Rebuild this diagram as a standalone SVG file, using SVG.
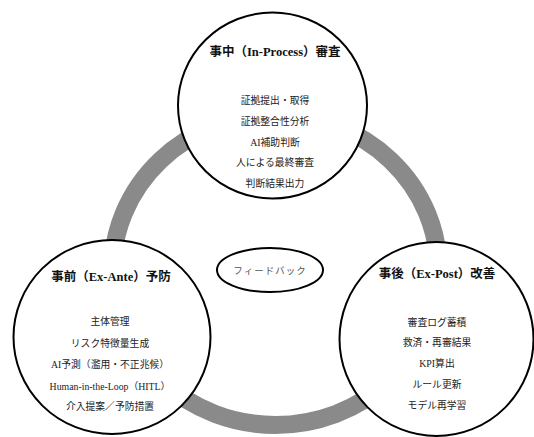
<svg xmlns="http://www.w3.org/2000/svg" width="534" height="437" viewBox="0 0 534 437">
<style>
.node{fill:#fff;stroke:#000;stroke-width:2}
.ring{fill:none;stroke:#8a8a8a;stroke-width:18}
text{font-family:"Liberation Serif","Noto Sans CJK JP",serif;text-anchor:middle;fill:#222}
.title{font-size:12.5px;font-weight:bold;fill:#111}
.item{font-size:9.8px}
.fb{font-size:9.5px;fill:#555;letter-spacing:1px}
</style>
<rect width="534" height="437" fill="#fff"/>
<g id="connectors">
<ellipse class="ring" cx="275.5" cy="270" rx="163" ry="155"/>
</g>
<g id="node-inprocess">
<ellipse class="node" cx="272.5" cy="105.5" rx="94.5" ry="93"/>
<text class="title" x="275" y="56">事中（In-Process）審査</text>
<text class="item" x="275" y="104">証拠提出・取得</text>
<text class="item" x="275" y="124.8">証拠整合性分析</text>
<text class="item" x="275" y="145.6">AI補助判断</text>
<text class="item" x="275" y="166.4">人による最終審査</text>
<text class="item" x="275" y="187.2">判断結果出力</text>
</g>
<g id="node-exante">
<ellipse class="node" cx="112" cy="337" rx="98.5" ry="97"/>
<text class="title" x="111" y="281">事前（Ex-Ante）予防</text>
<text class="item" x="110" y="325">主体管理</text>
<text class="item" x="110" y="346.5">リスク特徴量生成</text>
<text class="item" x="110" y="368">AI予測（濫用・不正兆候）</text>
<text class="item" x="110" y="389.5">Human-in-the-Loop（HITL）</text>
<text class="item" x="110" y="410">介入提案／予防措置</text>
</g>
<g id="node-expost">
<ellipse class="node" cx="436.5" cy="339" rx="97" ry="97"/>
<text class="title" x="437" y="277.5">事後（Ex-Post）改善</text>
<text class="item" x="437" y="325.5">審査ログ蓄積</text>
<text class="item" x="437" y="346">救済・再審結果</text>
<text class="item" x="437" y="367">KPI算出</text>
<text class="item" x="437" y="388">ルール更新</text>
<text class="item" x="437" y="409">モデル再学習</text>
</g>
<g id="node-feedback">
<ellipse class="node" cx="270" cy="270" rx="53" ry="22"/>
<text class="fb" x="270" y="273.5">フィードバック</text>
</g>
</svg>
